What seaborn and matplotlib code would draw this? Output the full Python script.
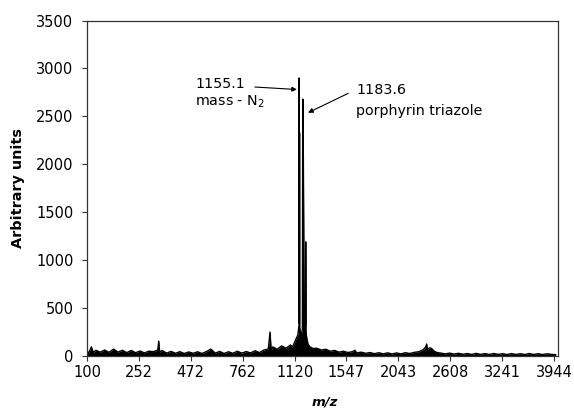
import numpy as np
import pandas as pd
import matplotlib
matplotlib.use("Agg")
import matplotlib.pyplot as plt
import seaborn as sns

# m/z positions (baseline samples plus the peaks)
mz = [
    100, 104, 110, 115, 121, 132, 144, 156, 169, 182, 196, 210, 225, 240, 256,
    272, 289, 306, 324, 328, 332, 342, 361, 380, 400, 420, 441, 462, 484,
    506, 529, 552, 576, 600, 625, 650, 676, 702, 729, 756, 784, 812, 841,
    870, 900, 930, 942, 950, 961, 992, 1024, 1056, 1089, 1105, 1122, 1135,
    1145, 1152, 1154.3, 1155.1, 1156.5, 1158, 1159.5, 1165, 1172, 1180,
    1182.5, 1183.6, 1185, 1195, 1205, 1206, 1208, 1215, 1225, 1240, 1260,
    1296, 1332, 1369, 1406, 1444, 1482, 1521, 1560, 1600, 1624, 1640, 1681,
    1722, 1764, 1806, 1849, 1892, 1936, 1980, 2025, 2070, 2116, 2162, 2209,
    2256, 2304, 2330, 2343, 2352, 2375, 2395, 2420, 2450, 2500, 2550, 2601,
    2652, 2704, 2756, 2809, 2862, 2916, 2970, 3025, 3080, 3136, 3192, 3249,
    3306, 3364, 3422, 3481, 3540, 3600, 3660, 3721, 3782, 3844, 3906, 3969,
]
intensity = [
    55, 30, 95, 35, 60, 40, 62, 38, 72, 40, 60, 35, 58, 34, 52,
    32, 50, 45, 62, 155, 38, 58, 30, 48, 28, 45, 26, 42, 28,
    44, 26, 46, 72, 30, 48, 26, 44, 28, 50, 30, 46, 32, 55,
    36, 62, 72, 250, 55, 95, 70, 105, 80, 115, 95, 150, 190,
    220, 300, 330, 2900, 340, 2330, 300, 240, 220, 280,
    2600, 2680, 2640, 280, 320, 1190, 250, 180, 120, 95, 80,
    80, 62, 70, 50, 58, 40, 50, 36, 45, 60, 32, 40,
    28, 36, 24, 34, 22, 33, 21, 32, 22, 34, 26, 38,
    44, 65, 92, 125, 70, 85, 80, 55, 38, 30, 22, 30,
    20, 28, 18, 26, 16, 27, 17, 25, 16, 26, 17, 24,
    15, 25, 16, 24, 15, 26, 16, 24, 15, 23, 17, 14,
]

tick_mz = [100, 252, 472, 762, 1120, 1547, 2043, 2608, 3241, 3944]
y_ticks = [0, 500, 1000, 1500, 2000, 2500, 3000, 3500]

df = pd.DataFrame({"mz": mz, "intensity": intensity})

sns.set_style("ticks")
plt.rcParams["font.family"] = ["DejaVu Sans"]
plt.rcParams["text.color"] = "black"
plt.rcParams["axes.labelcolor"] = "black"
plt.rcParams["xtick.color"] = "black"
plt.rcParams["ytick.color"] = "black"

fig = plt.figure(figsize=(5.74, 4.15), dpi=100)
ax = fig.add_axes([0.1516, 0.1422, 0.8197, 0.8084])

# x axis of a TOF spectrum is linear in sqrt(m/z)
ax.set_xscale("function", functions=(np.sqrt, np.square))

ax.fill_between(df["mz"], 0, df["intensity"], color="black", lw=0)
sns.lineplot(data=df, x="mz", y="intensity", ax=ax, color="black",
             lw=1.0, estimator=None, sort=True)

ax.set_xlim(100, 3994)
ax.set_ylim(0, 3500)
ax.set_xticks(tick_mz)
ax.set_xticklabels([str(t) for t in tick_mz])
ax.set_yticks(y_ticks)
ax.minorticks_off()

ax.tick_params(axis="both", direction="out", length=3.3, width=0.8,
               color="#333333", labelsize=10.5)
ax.tick_params(axis="y", pad=6.5)
ax.tick_params(axis="x", pad=3.5)
for sp in ax.spines.values():
    sp.set_color("#333333")
    sp.set_linewidth(0.9)

ax.set_ylabel("Arbitrary units", fontsize=10.4, fontweight="bold")
ax.set_xlabel("m/z", fontsize=9.5, fontweight="bold", style="italic")
ax.yaxis.set_label_coords(-0.132, 0.5)
ax.xaxis.set_label_coords(0.505, -0.119)

# peak labels
ax.text(493, 2796, "1155.1", fontsize=10.3, ha="left", va="baseline")
ax.text(493, 2610, "mass - N$_2$", fontsize=10.3, ha="left", va="baseline")
ax.annotate("", xy=(1138, 2780), xytext=(840, 2806),
            arrowprops=dict(arrowstyle="-|>", lw=0.8, color="black",
                            mutation_scale=7, shrinkA=0, shrinkB=0))
ax.text(1633, 2730, "1183.6", fontsize=10.3, ha="left", va="baseline")
ax.text(1633, 2519, "porphyrin triazole", fontsize=10.3, ha="left",
        va="baseline")
ax.annotate("", xy=(1224, 2538), xytext=(1563, 2740),
            arrowprops=dict(arrowstyle="-|>", lw=0.8, color="black",
                            mutation_scale=7, shrinkA=0, shrinkB=0))

fig.savefig("out.png", dpi=100)
